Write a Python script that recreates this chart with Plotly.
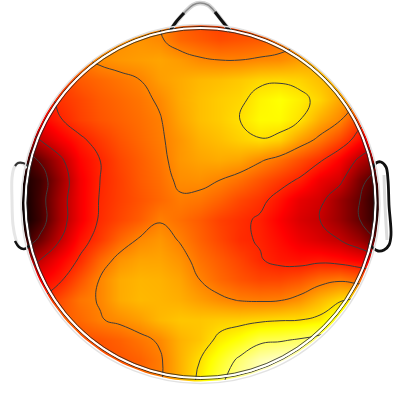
import math
import plotly.graph_objects as go

grid_x = [20,40,60,80,100,120,140,160,180,200,220,240,260,280,300,320,340,360,380]
grid_y = [20,40,60,80,100,120,140,160,180,200,220,240,260,280,300,320,340,360,380]

row_020 = [.50,.50,.50,.52,.56,.58,.58,.56,.50,.47,.45,.46,.47,.50,.53,.56,.58,.58,.58]
row_040 = [.50,.50,.50,.52,.56,.58,.585,.57,.52,.50,.48,.49,.50,.53,.55,.58,.60,.60,.60]
row_060 = [.48,.48,.50,.54,.575,.59,.60,.61,.595,.57,.56,.56,.57,.575,.60,.62,.62,.62,.62]
row_080 = [.42,.43,.46,.50,.52,.54,.56,.60,.62,.64,.65,.665,.685,.69,.68,.65,.62,.60,.60]
row_100 = [.36,.38,.44,.47,.50,.52,.54,.57,.62,.65,.67,.685,.73,.75,.72,.68,.61,.56,.50]
row_120 = [.30,.36,.415,.46,.49,.51,.53,.555,.61,.65,.67,.70,.74,.74,.70,.62,.565,.45,.40]
row_140 = [.20,.28,.35,.405,.45,.49,.52,.55,.59,.63,.65,.675,.695,.675,.60,.54,.47,.38,.30]
row_160 = [.06,.15,.26,.37,.42,.47,.505,.54,.59,.61,.62,.61,.57,.53,.48,.43,.36,.26,.18]
row_180 = [.02,.09,.22,.35,.42,.46,.50,.53,.575,.58,.56,.53,.49,.45,.41,.34,.30,.17,.08]
row_200 = [.00,.10,.24,.35,.425,.46,.49,.52,.55,.54,.51,.47,.44,.39,.33,.30,.22,.14,.04]
row_220 = [.00,.09,.24,.35,.43,.47,.505,.555,.53,.50,.46,.435,.41,.36,.31,.28,.22,.14,.05]
row_240 = [.05,.16,.28,.39,.45,.52,.57,.59,.555,.51,.47,.43,.415,.38,.34,.31,.28,.22,.12]
row_260 = [.22,.28,.36,.43,.52,.585,.61,.61,.585,.535,.50,.465,.425,.40,.39,.40,.385,.36,.32]
row_280 = [.30,.36,.41,.49,.565,.62,.635,.63,.61,.56,.52,.49,.47,.47,.49,.53,.55,.52,.50]
row_300 = [.38,.42,.48,.54,.565,.62,.64,.635,.625,.60,.575,.555,.55,.555,.585,.64,.69,.72,.72]
row_320 = [.42,.46,.50,.52,.555,.575,.60,.64,.66,.66,.67,.675,.685,.695,.70,.72,.80,.85,.85]
row_340 = [.45,.46,.47,.48,.49,.51,.54,.57,.63,.66,.72,.76,.82,.83,.85,.88,.90,.90,.90]
row_360 = [.45,.46,.47,.48,.48,.49,.51,.55,.63,.70,.78,.86,.92,.95,.95,.95,.95,.95,.95]
row_380 = [.45,.46,.47,.48,.48,.49,.52,.55,.63,.72,.82,.90,.95,.97,.97,.97,.97,.97,.97]
z_values = [row_020,row_040,row_060,row_080,row_100,row_120,row_140,row_160,row_180,row_200,
            row_220,row_240,row_260,row_280,row_300,row_320,row_340,row_360,row_380]

hot_scale = [[0,"#000000"],[0.365,"#ff0000"],[0.746,"#ffff00"],[1,"#ffffff"]]

head_cx, head_cy = 200.5, 203
mask_r = 178.5

nose_x = [170,178,186,193,200,208,216,223,230]
nose_y = [31,20,11,5,3,5,13,22,31]
nose_dark_left_x = [170,176,184]
nose_dark_left_y = [31,22,13]
nose_dark_right_x = [215,222,230]
nose_dark_right_y = [12,21,31]
ear_l_x = [27,23,18,14,12,12,13,16,19]
ear_l_y = [168,164,163,168,178,200,225,240,247]
ear_l_top_x = [30,27,23,18,15]
ear_l_top_y = [170,165,163,163,166]
ear_l_end_x = [15,19,24,30]
ear_l_end_y = [241,247,249,245]
ear_r_x = [372,376,381,386,388,389,391,389,384,378,373,369]
ear_r_y = [170,163,162,167,180,205,235,245,250,251,248,243]
ear_r_shadow_x = [384,385,387]
ear_r_shadow_y = [175,205,240]

fig = go.Figure()
fig.add_trace(go.Heatmap(x=grid_x, y=grid_y, z=z_values, zmin=0, zmax=1, colorscale=hot_scale,
                         zsmooth="best", showscale=False, hoverinfo="skip"))
fig.add_trace(go.Contour(x=grid_x, y=grid_y, z=z_values, showscale=False, hoverinfo="skip",
                         contours=dict(start=0.14, end=0.84, size=0.14, coloring="none"),
                         line=dict(color="#3c3c3c", width=1, smoothing=1.3)))

# white surround that clips the map to the head circle
angles = [180 - a for a in range(0, 362, 2)]
mask_x = [0,400,400,0,0] + [head_cx + mask_r*math.cos(math.radians(a)) for a in angles] + [0,0]
mask_y = [0,0,400,400,head_cy] + [head_cy + mask_r*math.sin(math.radians(a)) for a in angles] + [head_cy,0]
fig.add_trace(go.Scatter(x=mask_x, y=mask_y, mode="lines", fill="toself", fillcolor="white",
                         line=dict(width=0), hoverinfo="skip"))

for xs, ys, c, w in [(nose_x, nose_y, "#d4d4d4", 4.5),(nose_x, nose_y, "#8a8a8a", 1.5),
                     (nose_dark_left_x, nose_dark_left_y, "#111111", 3),
                     (nose_dark_right_x, nose_dark_right_y, "#111111", 3),
                     (ear_l_x, ear_l_y, "#e6e6e6", 3),
                     (ear_l_top_x, ear_l_top_y, "#333333", 2.2),
                     (ear_l_end_x, ear_l_end_y, "#111111", 2.5),
                     (ear_r_shadow_x, ear_r_shadow_y, "#dcdcdc", 3),
                     (ear_r_x, ear_r_y, "#111111", 2.8)]:
    fig.add_trace(go.Scatter(x=xs, y=ys, mode="lines", hoverinfo="skip",
                             line=dict(color=c, width=w, shape="spline")))

shapes = []
for r, dy, c, w in [(179.5,1,"#e2e2e2",1.5),(176.5,0,"#111111",0.8),(175,0,"#ffffff",2.2),(173.5,0,"#222222",0.8)]:
    shapes.append(dict(type="circle", xref="x", yref="y", layer="above",
                       x0=head_cx-r, x1=head_cx+r, y0=head_cy-r+dy, y1=head_cy+r+dy,
                       line=dict(color=c, width=w)))

fig.update_layout(width=400, height=400, margin=dict(l=0,r=0,t=0,b=0), showlegend=False,
                  plot_bgcolor="white", paper_bgcolor="white", shapes=shapes,
                  xaxis=dict(range=[0,400], visible=False, fixedrange=True),
                  yaxis=dict(range=[400,0], visible=False, fixedrange=True))
fig.write_html("out.html", config=dict(displayModeBar=False),
               post_script="document.body.style.margin='0';document.documentElement.style.overflow='hidden';")
